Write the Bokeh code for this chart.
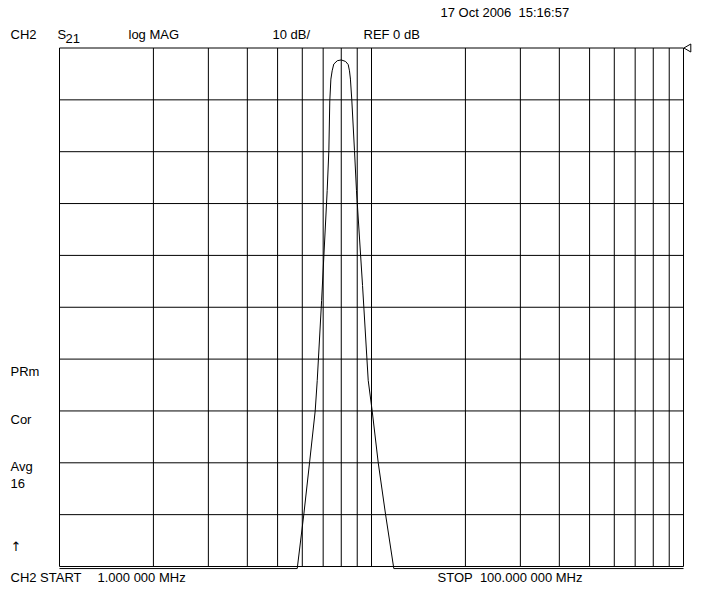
import numpy as np
from bokeh.plotting import figure
from bokeh.models import Range1d, Label
from bokeh.embed import file_html
from bokeh.resources import INLINE

# ---- data ----
freq_mhz = [1.0, 5.78, 6.07, 6.33, 6.60, 6.70, 6.92, 7.21, 7.30, 7.35, 7.41, 7.48, 7.57,
            7.77, 8.00, 8.26, 8.42, 8.50, 8.56, 8.65, 8.82, 8.95, 9.36, 9.76, 10.05,
            10.51, 11.09, 11.79, 100.0]
s21_db = [-100.4, -100.4, -89.9, -80.0, -70.0, -64.1, -48.7, -27.5, -19.8, -10.2, -6.0, -4.4, -3.1,
          -2.45, -2.3, -2.6, -3.2, -4.4, -6.0, -10.2, -19.8, -27.5, -45.8, -64.1, -70.0,
          -80.0, -89.9, -100.4, -100.4]
x_grid_mhz = [1, 2, 3, 4, 5, 6, 7, 8, 9, 10, 20, 30, 40, 50, 60, 70, 80, 90, 100]
y_grid_db = [0, -10, -20, -30, -40, -50, -60, -70, -80, -90, -100]
start_mhz, stop_mhz = 1.0, 100.0
ref_db, bottom_db = 0.0, -100.0

NB = "\u00a0"
header = [("CH2", 10), ("S", 57), ("log" + NB + "MAG", 128), ("10" + NB + "dB/", 272),
          ("REF" + NB + "0" + NB + "dB", 363)]
side = [("PRm", 371), ("Cor", 419), ("Avg", 466), ("16", 483)]
date_text = "17" + NB + "Oct" + NB + "2006" + NB * 2 + "15:16:57"
bottom = [("CH2" + NB + "START", 10), ("1.000" + NB + "000" + NB + "MHz", 97),
          ("STOP" + NB * 2 + "100.000" + NB + "000" + NB + "MHz", 437)]

# ---- layout (picture pixel geometry) ----
W, H = 701, 589
LEFT = 59.0
TOP = 47.5
PX_DEC = 312.0
PX_DB = 5.185

x0 = start_mhz * 10 ** (-LEFT / PX_DEC)
x1 = start_mhz * 10 ** ((W - LEFT) / PX_DEC)
y1 = ref_db + TOP / PX_DB
y0 = ref_db - (H - TOP) / PX_DB

p = figure(width=W, height=H, x_axis_type="log",
           x_range=Range1d(x0, x1), y_range=Range1d(y0, y1),
           output_backend="svg", toolbar_location=None,
           x_axis_location=None, y_axis_location=None, min_border=0)
p.outline_line_color = None
p.background_fill_color = "white"
p.border_fill_color = "white"
for g in p.grid:
    g.visible = False

nv = len(x_grid_mhz)
p.segment(x0=x_grid_mhz, y0=[bottom_db] * nv, x1=x_grid_mhz, y1=[ref_db] * nv,
          line_color="black", line_width=1)
nh = len(y_grid_db)
p.segment(x0=[start_mhz] * nh, y0=y_grid_db, x1=[stop_mhz] * nh, y1=y_grid_db,
          line_color="black", line_width=1)

p.line(freq_mhz, s21_db, line_color="black", line_width=1)

# reference marker (pointing left) just right of the grid
p.scatter([stop_mhz * 10 ** (5 / PX_DEC)], [ref_db], marker="triangle", angle=np.pi / 2,
          size=8, fill_color="white", line_color="black", line_width=1)

FONT = "Liberation Sans"
FS = "13px"


def lab(text, x, y_base, size=FS, font=FONT):
    p.add_layout(Label(x=x, y=H - y_base, x_units="screen", y_units="screen",
                       text=text, text_font=font, text_font_size=size,
                       text_baseline="alphabetic", text_color="black"))


lab(date_text, 440, 11.5)
for t, x in header:
    lab(t, x, 33.5)
lab("21", 65, 38)
for t, y in side:
    lab(t, 10, y)
lab("\u2191", 10, 546, size="13px", font="DejaVu Sans")
for t, x in bottom:
    lab(t, x, 577)

open("out.html", "w").write(file_html(p, INLINE))
